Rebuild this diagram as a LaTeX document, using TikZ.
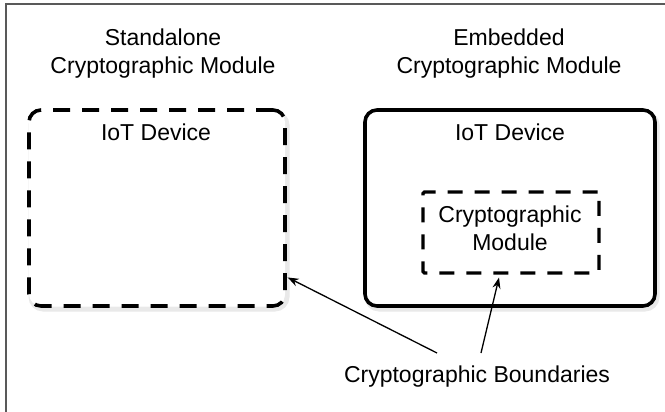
\documentclass[tikz,border=0pt]{standalone}
\usepackage{fontspec}
\setmainfont{Liberation Sans}
\usetikzlibrary{arrows.meta,shadows}
\begin{document}
\begin{tikzpicture}[x=1pt,y=-1pt,
  lbl/.style={font=\fontsize{23}{28}\selectfont, align=center, inner sep=0pt},
  dashbox/.style={draw, line width=3.6pt, dash pattern=on 17pt off 12pt, rounded corners=12pt, fill=white},
  solidbox/.style={draw, line width=3.6pt, rounded corners=12pt, fill=white},
  innerbox/.style={draw, line width=3.2pt, dash pattern=on 15pt off 12pt, rounded corners=1.5pt},
  pointer/.style={line width=1.3pt, -{Stealth[length=11pt,width=8pt]}},
  shade/.style={draw=black!25, line width=5pt, rounded corners=12pt, opacity=0.35}
]
\useasboundingbox (0,0) rectangle (665,412);
% frame
\draw[black!65, line width=2pt] (5.5,412) -- (5.5,4.5) -- (665,4.5);

% soft shadows
\draw[shade] (31,113) rectangle (287,309);
\draw[shade] (367,113) rectangle (657,309);

% boxes
\node[dashbox, minimum width=256pt, minimum height=196pt] (lbox) at (157,208) {};
\node[solidbox, minimum width=290pt, minimum height=196pt] (rbox) at (510,208) {};
\node[innerbox, minimum width=176pt, minimum height=81pt] (ibox) at (511,232.5) {};

% texts
\node[lbl] (ltitle) at (163,54) {Standalone\\Cryptographic Module};
\node[lbl] (rtitle) at (509,54) {Embedded\\Cryptographic Module};
\node[lbl] (ldev) at (156,132) {IoT Device};
\node[lbl] (rdev) at (510,132) {IoT Device};
\node[lbl] (itext) at (510,228) {Cryptographic\\Module};
\node[lbl] (bnd) at (477,377) {Cryptographic Boundaries};

% pointers
\coordinate (s1) at (437,353);
\coordinate (s2) at (481,353);
\draw[pointer, shorten >=1pt] (s1) -- (lbox.-28);
\draw[pointer, shorten >=3pt] (s2) -- (ibox.-105);
\end{tikzpicture}
\end{document}
